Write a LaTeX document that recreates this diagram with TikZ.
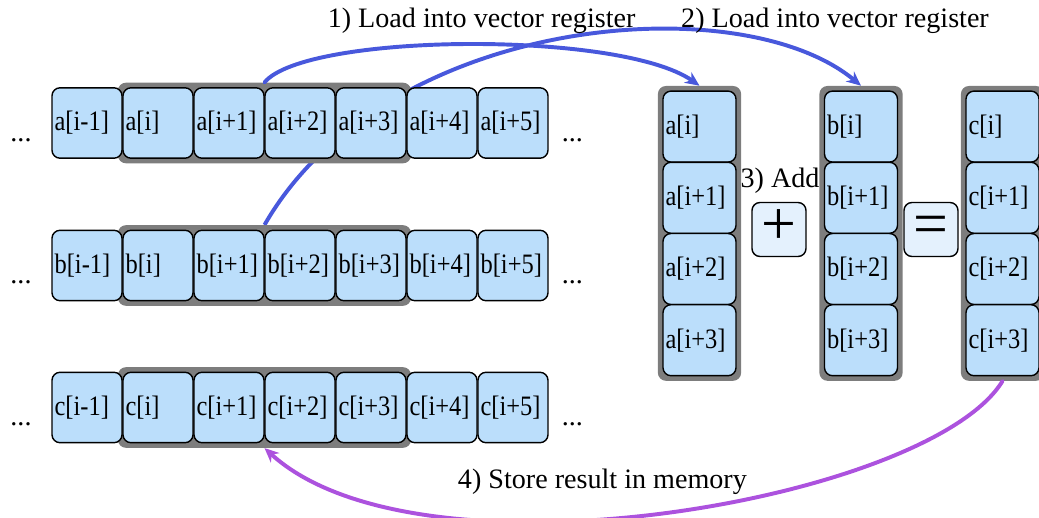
\documentclass[tikz,border=0pt]{standalone}
\usepackage{fontspec}
\setmainfont{Liberation Serif}
\newfontfamily\cellfont[FakeStretch=0.87]{Liberation Serif}
\usetikzlibrary{arrows.meta,fit}
\definecolor{cellblue}{RGB}{187,222,251}
\definecolor{opblue}{RGB}{228,241,253}
\definecolor{bandgray}{RGB}{125,125,125}
\definecolor{loadblue}{RGB}{72,88,220}
\definecolor{storepurple}{RGB}{172,82,222}
\pgfdeclarelayer{wires}
\pgfdeclarelayer{bands}
\pgfsetlayers{wires,bands,main}
\begin{document}
\begin{tikzpicture}[cap=round,font=\fontsize{20}{24}\selectfont,
    cell/.style={draw=black,line width=1pt,fill=cellblue,rounded corners=0.2cm,
        minimum height=1.76cm,text width=1.62cm,inner xsep=0.065cm,align=left,
        font=\cellfont\fontsize{20}{24}\selectfont},
    regcell/.style={cell,minimum height=1.775cm,text width=1.695cm},
    band/.style={fill=bandgray,rounded corners=0.2cm,inner sep=0.11cm},
    opbox/.style={draw=black,line width=1pt,fill=opblue,rounded corners=0.2cm,
        minimum size=1.35cm,inner sep=0pt,text height=22pt,text depth=0pt,
        font=\fontsize{44}{44}\selectfont},
    load/.style={loadblue,line width=2.8pt,-{Stealth[length=0.36cm,width=0.32cm]}},
    store/.style={load,storepurple}]
        \useasboundingbox (0,0) rectangle (25.975,12.925);

        %fila a
        \node (adl) at (0.525,9.425){...};
        \node[cell] (a0) at (2.175,9.85){a[i-1]};
        \node[cell] (a1) at (3.95,9.85){a[i]};
        \node[cell] (a2) at (5.725,9.85){a[i+1]};
        \node[cell] (a3) at (7.5,9.85){a[i+2]};
        \node[cell] (a4) at (9.275,9.85){a[i+3]};
        \node[cell] (a5) at (11.05,9.85){a[i+4]};
        \node[cell] (a6) at (12.825,9.85){a[i+5]};
        \node (adr) at (14.31,9.425){...};

        %fila b
        \node (bdl) at (0.525,5.8625){...};
        \node[cell] (b0) at (2.175,6.2875){b[i-1]};
        \node[cell] (b1) at (3.95,6.2875){b[i]};
        \node[cell] (b2) at (5.725,6.2875){b[i+1]};
        \node[cell] (b3) at (7.5,6.2875){b[i+2]};
        \node[cell] (b4) at (9.275,6.2875){b[i+3]};
        \node[cell] (b5) at (11.05,6.2875){b[i+4]};
        \node[cell] (b6) at (12.825,6.2875){b[i+5]};
        \node (bdr) at (14.31,5.8625){...};

        %fila c
        \node (cdl) at (0.525,2.3125){...};
        \node[cell] (c0) at (2.175,2.7375){c[i-1]};
        \node[cell] (c1) at (3.95,2.7375){c[i]};
        \node[cell] (c2) at (5.725,2.7375){c[i+1]};
        \node[cell] (c3) at (7.5,2.7375){c[i+2]};
        \node[cell] (c4) at (9.275,2.7375){c[i+3]};
        \node[cell] (c5) at (11.05,2.7375){c[i+4]};
        \node[cell] (c6) at (12.825,2.7375){c[i+5]};
        \node (cdr) at (14.31,2.3125){...};

        %registros
        \node[regcell] (ra1) at (17.4875,9.76){a[i]};
        \node[regcell] (ra2) at (17.4875,7.98){a[i+1]};
        \node[regcell] (ra3) at (17.4875,6.2){a[i+2]};
        \node[regcell] (ra4) at (17.4875,4.42){a[i+3]};

        \node[regcell] (rb1) at (21.525,9.76){b[i]};
        \node[regcell] (rb2) at (21.525,7.98){b[i+1]};
        \node[regcell] (rb3) at (21.525,6.2){b[i+2]};
        \node[regcell] (rb4) at (21.525,4.42){b[i+3]};

        \node[regcell] (rc1) at (25.0625,9.76){c[i]};
        \node[regcell] (rc2) at (25.0625,7.98){c[i+1]};
        \node[regcell] (rc3) at (25.0625,6.2){c[i+2]};
        \node[regcell] (rc4) at (25.0625,4.42){c[i+3]};

        \node[opbox] (plus) at (19.475,7.1875){+};
        \node[opbox] (equal) at (23.275,7.1875){=};

        \begin{pgfonlayer}{bands}
        \node[band,fit=(a1)(a4)] (amem) {};
        \node[band,fit=(b1)(b4)] (bmem) {};
        \node[band,fit=(c1)(c4)] (cmem) {};
        \node[band,fit=(ra1)(ra4)] (areg) {};
        \node[band,fit=(rb1)(rb4)] (breg) {};
        \node[band,fit=(rc1)(rc4)] (creg) {};
        \end{pgfonlayer}

        \begin{pgfonlayer}{wires}
        \draw[load] (bmem.north) .. controls (9.625,12.55) and (18.5,13.3) .. (breg.north);%carga b
        \end{pgfonlayer}
        \draw[load] (amem.north) .. controls (7.625,12.1) and (15.5,12.175) .. (areg.north);%carga a
        \draw[store] (creg.south) .. controls (23.25,0.425) and (10.5,-1.825) .. (cmem.south);%guardar c

        \node[anchor=base] (load1) at (12.04,12.24){1) Load into vector register};
        \node[anchor=base] (load2) at (20.875,12.24){2) Load into vector register};
        \node[anchor=base] (add) at (19.5,8.225){3) Add};
        \node[anchor=base] (save) at (15.06,0.725){4) Store result in memory};

\end{tikzpicture}
\end{document}
